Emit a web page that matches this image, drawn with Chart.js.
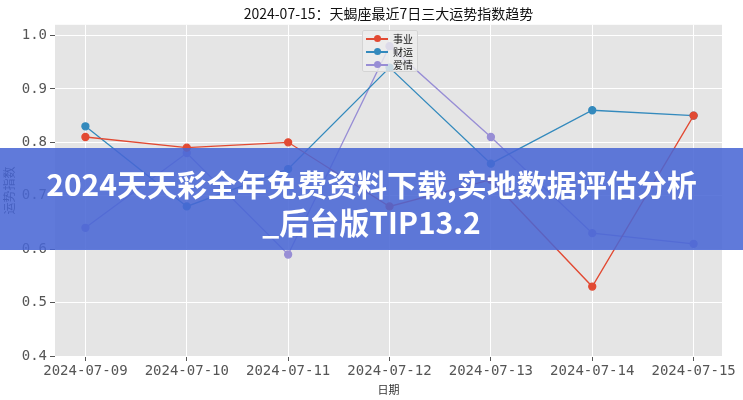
<!DOCTYPE html>
<html>
<head>
<meta charset="utf-8">
<script src="https://cdn.jsdelivr.net/npm/chart.js@4.4.1/dist/chart.umd.min.js"></script>
<style>
  html, body { margin: 0; padding: 0; background: #fff; }
  #wrap { position: relative; width: 743px; height: 400px; }
  #chart { display: block; }
  #legend {
    position: absolute; left: 362px; top: 30px; width: 56px; height: 42px;
    box-sizing: border-box; background: rgba(238,238,238,0.8);
    border: 1px solid #d4d4d4; border-radius: 2px;
    font-family: "Noto Sans CJK SC", sans-serif; font-size: 10px; color: #111;
    padding-top: 1px;
  }
  .item { height: 13px; display: flex; align-items: center; }
  .swatch { position: relative; width: 22px; height: 13px; margin-left: 3px; margin-right: 5px; }
  .swatch .ln { position: absolute; left: 0; right: 0; top: 6px; height: 1.5px; }
  .swatch .dot { position: absolute; left: 7.5px; top: 3px; width: 7px; height: 7px; border-radius: 50%; }
  #banner {
    position: absolute; left: 0; top: 148px; width: 743px; height: 102px;
    background: rgba(72,102,212,0.87); color: #fff; text-align: center;
    font-family: "Noto Sans CJK SC", sans-serif; font-weight: bold;
    font-size: 30px; line-height: 38px; box-sizing: border-box; padding-top: 16px;
  }
</style>
</head>
<body>
<div id="wrap">
  <canvas id="chart" width="743" height="400"></canvas>
  <div id="legend"></div>
  <div id="banner">2024天天彩全年免费资料下载,实地数据评估分析<br>_后台版TIP13.2</div>
</div>
<script>
const dates = ['2024-07-09', '2024-07-10', '2024-07-11', '2024-07-12', '2024-07-13', '2024-07-14', '2024-07-15'];
const seriesNames = ['事业', '财运', '爱情'];
const career = [0.81, 0.79, 0.80, 0.68, 0.73, 0.53, 0.85];
const wealth = [0.83, 0.68, 0.75, 0.94, 0.76, 0.86, 0.85];
const love = [0.64, 0.78, 0.59, 0.98, 0.81, 0.63, 0.61];
const yTicks = [0.4, 0.5, 0.6, 0.7, 0.8, 0.9, 1.0];
const colors = ['#E24A33', '#348ABD', '#988ED5'];

const tickFont = { family: 'DejaVu Sans Mono', size: 14 };

const plotBg = {
  id: 'plotBg',
  beforeDraw(chart) {
    const a = chart.chartArea, ctx = chart.ctx;
    ctx.save();
    ctx.fillStyle = '#E5E5E5';
    ctx.fillRect(a.left, a.top, a.right - a.left, a.bottom - a.top);
    ctx.restore();
  }
};

const values = [career, wealth, love];
const datasets = values.map((vals, k) => ({
  label: seriesNames[k],
  data: vals.map((v, i) => ({ x: i, y: v })),
  borderColor: colors[k],
  backgroundColor: colors[k],
  borderWidth: 1.3,
  pointRadius: 3.5,
  pointHoverRadius: 3.5,
  tension: 0
}));

new Chart(document.getElementById('chart'), {
  type: 'line',
  data: { datasets: datasets },
  options: {
    responsive: false,
    animation: false,
    layout: { padding: { left: 0, right: 21, top: 0, bottom: 0 } },
    plugins: {
      legend: { display: false },
      tooltip: { enabled: false },
      title: {
        display: true,
        fullSize: false,
        text: '2024-07-15：天蝎座最近7日三大运势指数趋势',
        color: '#111',
        font: { family: 'Noto Sans CJK SC', size: 14, weight: 'normal' },
        padding: { top: 5, bottom: 3 }
      }
    },
    scales: {
      x: {
        type: 'linear',
        min: -0.3,
        max: 6.28,
        afterBuildTicks(scale) { scale.ticks = dates.map((d, i) => ({ value: i })); },
        afterFit(scale) { scale.height = 44; },
        ticks: {
          color: '#555',
          font: tickFont,
          padding: 2,
          maxRotation: 0,
          autoSkip: false,
          callback: (v) => dates[v]
        },
        grid: { color: '#fff', lineWidth: 1, tickColor: '#555', tickLength: 5 },
        border: { display: false },
        title: {
          display: true,
          text: '日期',
          color: '#333',
          font: { family: 'Noto Sans CJK SC', size: 11 },
          padding: { top: 0, bottom: 4 }
        }
      },
      y: {
        min: 0.4,
        max: 1.02,
        afterBuildTicks(scale) { scale.ticks = yTicks.map(v => ({ value: v })); },
        afterFit(scale) { scale.width = 55; },
        ticks: {
          color: '#555',
          font: tickFont,
          padding: 3,
          callback: (v) => v.toFixed(1)
        },
        grid: { color: '#fff', lineWidth: 1, tickColor: '#555', tickLength: 5 },
        border: { display: false },
        title: {
          display: true,
          text: '运势指数',
          color: '#333',
          font: { family: 'Noto Sans CJK SC', size: 12 },
          padding: { top: 2, bottom: 0 }
        }
      }
    }
  },
  plugins: [plotBg]
});

// legend built from the series
const legend = document.getElementById('legend');
seriesNames.forEach((name, k) => {
  const item = document.createElement('div');
  item.className = 'item';
  item.innerHTML = `<span class="swatch"><span class="ln" style="background:${colors[k]}"></span><span class="dot" style="background:${colors[k]}"></span></span><span>${name}</span>`;
  legend.appendChild(item);
});
</script>
</body>
</html>
